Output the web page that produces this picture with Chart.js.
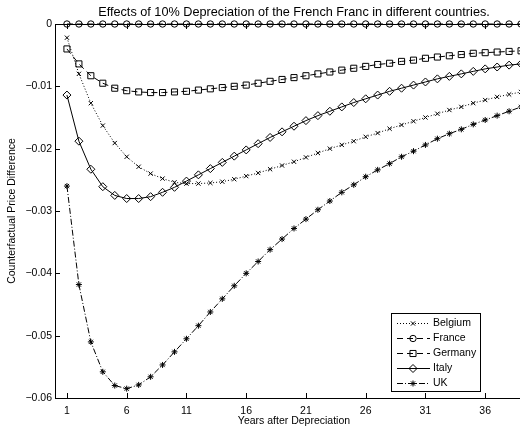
<!DOCTYPE html>
<html>
<head>
<meta charset="utf-8">
<script src="https://cdn.jsdelivr.net/npm/chart.js@4/dist/chart.umd.min.js"></script>
<style>
  html, body { margin: 0; padding: 0; background: #fff; overflow: hidden; }
  #wrap { width: 520px; height: 431px; overflow: hidden; }
  canvas { display: block; }
</style>
</head>
<body>
<div id="wrap"><canvas id="chart" width="588" height="431"></canvas></div>
<script>
const years = [1, 2, 3, 4, 5, 6, 7, 8, 9, 10, 11, 12, 13, 14, 15, 16, 17, 18, 19, 20,
  21, 22, 23, 24, 25, 26, 27, 28, 29, 30, 31, 32, 33, 34, 35, 36, 37, 38, 39];

const belgium = [-0.0022, -0.0080, -0.0127, -0.0163, -0.0191, -0.0213, -0.0229, -0.0240, -0.0248, -0.0254,
  -0.0256, -0.0256, -0.0255, -0.0253, -0.0249, -0.0244, -0.0239, -0.0233, -0.0227, -0.0221,
  -0.0214, -0.0207, -0.0200, -0.0194, -0.0188, -0.0181, -0.0175, -0.0168, -0.0162, -0.0156,
  -0.0150, -0.0144, -0.0138, -0.0133, -0.0127, -0.0122, -0.0117, -0.0113, -0.0109];

const france = [0, 0, 0, 0, 0, 0, 0, 0, 0, 0, 0, 0, 0, 0, 0, 0, 0, 0, 0, 0,
  0, 0, 0, 0, 0, 0, 0, 0, 0, 0, 0, 0, 0, 0, 0, 0, 0, 0, 0];

const germany = [-0.0040, -0.0064, -0.0083, -0.0095, -0.0103, -0.0107, -0.0109, -0.0110, -0.0110, -0.0109,
  -0.0108, -0.0106, -0.0104, -0.0102, -0.0100, -0.0098, -0.0095, -0.0092, -0.0089, -0.0086,
  -0.0083, -0.0080, -0.0077, -0.0074, -0.0071, -0.0068, -0.0065, -0.0063, -0.0060, -0.0058,
  -0.0055, -0.0053, -0.0051, -0.0049, -0.0047, -0.0046, -0.0045, -0.0044, -0.0043];

const italy = [-0.0114, -0.0188, -0.0233, -0.0261, -0.0275, -0.0280, -0.0280, -0.0277, -0.0270, -0.0262,
  -0.0252, -0.0242, -0.0232, -0.0222, -0.0212, -0.0202, -0.0192, -0.0182, -0.0173, -0.0164,
  -0.0155, -0.0147, -0.0140, -0.0133, -0.0126, -0.0120, -0.0114, -0.0108, -0.0103, -0.0098,
  -0.0093, -0.0088, -0.0084, -0.0080, -0.0076, -0.0072, -0.0069, -0.0066, -0.0064];

const uk = [-0.0260, -0.0418, -0.0510, -0.0558, -0.0580, -0.0585, -0.0579, -0.0566, -0.0547, -0.0526,
  -0.0505, -0.0484, -0.0462, -0.0441, -0.0420, -0.0400, -0.0381, -0.0362, -0.0345, -0.0328,
  -0.0313, -0.0298, -0.0284, -0.0270, -0.0258, -0.0245, -0.0234, -0.0224, -0.0213, -0.0204,
  -0.0194, -0.0184, -0.0176, -0.0169, -0.0161, -0.0154, -0.0147, -0.0140, -0.0133];

const xTicks = [1, 6, 11, 16, 21, 26, 31, 36];
const yTicks = [0, -0.01, -0.02, -0.03, -0.04, -0.05, -0.06];

const FONT = "'Liberation Sans', Arial, Helvetica, sans-serif";
Chart.defaults.font.family = FONT;
Chart.defaults.color = "#000";

const series = [
  { label: "Belgium", values: belgium, style: "crossRot", r: 3, dash: [1, 2] },
  { label: "France", values: france, style: "circle", r: 3.2, dash: [6, 4] },
  { label: "Germany", values: germany, style: "rect", r: 4.3, dash: [6, 4] },
  { label: "Italy", values: italy, style: "rectRot", r: 4, dash: [] },
  { label: "UK", values: uk, style: "star", r: 3, dash: [6, 2, 1, 2] },
];

const datasets = series.map((s) => ({
  label: s.label,
  data: years.map((yr, i) => ({ x: yr, y: s.values[i] })),
  borderColor: "#000",
  borderWidth: 1,
  borderDash: s.dash,
  pointStyle: s.style,
  pointRadius: s.r,
  pointBorderWidth: 1,
  pointBorderColor: "#000",
  pointBackgroundColor: "rgba(0,0,0,0)",
  tension: 0,
  clip: false,
}));

// box + inward ticks, matlab style
const frame = {
  id: "frame",
  beforeDatasetsDraw(chart) {
    const { ctx, chartArea: a, scales: { x, y } } = chart;
    ctx.save();
    ctx.strokeStyle = "#000";
    ctx.lineWidth = 1;
    ctx.setLineDash([]);
    ctx.strokeRect(a.left + 0.5, a.top + 0.5, a.right - a.left, a.bottom - a.top);
    ctx.beginPath();
    xTicks.forEach((v) => {
      const px = Math.round(x.getPixelForValue(v)) + 0.5;
      ctx.moveTo(px, a.bottom); ctx.lineTo(px, a.bottom - 5);
      ctx.moveTo(px, a.top); ctx.lineTo(px, a.top + 5);
    });
    yTicks.forEach((v) => {
      const py = Math.round(y.getPixelForValue(v)) + 0.5;
      ctx.moveTo(a.left, py); ctx.lineTo(a.left + 5, py);
    });
    ctx.stroke();
    ctx.restore();
  },
};

const boxLegend = {
  id: "boxLegend",
  afterDraw(chart) {
    const { ctx } = chart;
    const left = 391, top = 313, w = 89, h = 78;
    ctx.save();
    ctx.fillStyle = "#fff";
    ctx.fillRect(left, top, w, h);
    ctx.strokeStyle = "#000";
    ctx.lineWidth = 1;
    ctx.strokeRect(left + 0.5, top + 0.5, w, h);
    ctx.font = "10.5px " + FONT;
    ctx.textBaseline = "middle";
    chart.data.datasets.forEach((ds, i) => {
      const yy = Math.round(top + 9.5 + i * 15) + 0.5;
      ctx.strokeStyle = "#000";
      ctx.lineWidth = 1;
      ctx.setLineDash(ds.borderDash);
      ctx.beginPath();
      ctx.moveTo(left + 6, yy);
      ctx.lineTo(left + 39, yy);
      ctx.stroke();
      ctx.setLineDash([]);
      ctx.fillStyle = "rgba(0,0,0,0)";
      Chart.helpers.drawPoint(ctx, { pointStyle: ds.pointStyle, radius: ds.pointRadius, borderWidth: 1, rotation: 0 }, left + 22, yy);
      ctx.fillStyle = "#000";
      ctx.fillText(ds.label, left + 42, yy);
    });
    ctx.restore();
  },
};

new Chart(document.getElementById("chart"), {
  type: "line",
  data: { datasets },
  options: {
    responsive: false,
    animation: false,
    plugins: {
      legend: { display: false },
      tooltip: { enabled: false },
      title: {
        display: true,
        text: "Effects of 10% Depreciation of the French Franc in different countries.",
        color: "#000",
        font: { size: 12.7, weight: "normal" },
        padding: { top: 4.9, bottom: 3.86 },
      },
    },
    scales: {
      x: {
        type: "linear",
        min: 0,
        max: 40,
        grid: { display: false, drawTicks: false },
        border: { display: false },
        afterBuildTicks: (s) => { s.ticks = xTicks.map((v) => ({ value: v })); },
        afterFit: (s) => { s.height = 33; },
        ticks: {
          color: "#000",
          font: { size: 10.5 },
          padding: 7,
          autoSkip: false,
          maxRotation: 0,
          callback: (v) => String(v),
        },
        title: {
          display: true,
          text: "Years after Depreciation",
          color: "#000",
          font: { size: 10.5 },
          padding: { top: 0, bottom: 3.2 },
        },
      },
      y: {
        type: "linear",
        min: -0.06,
        max: 0,
        grid: { display: false, drawTicks: false },
        border: { display: false },
        afterBuildTicks: (s) => { s.ticks = yTicks.map((v) => ({ value: v })); },
        afterFit: (s) => { s.width = 55; },
        ticks: {
          color: "#000",
          font: { size: 10.5 },
          padding: 3,
          callback: (v) => (v === 0 ? "0" : "\u2212" + Math.abs(v).toFixed(2)),
        },
        title: {
          display: true,
          text: "Counterfactual Price Difference",
          color: "#000",
          font: { size: 10.5 },
          padding: { top: 6, bottom: 0 },
        },
      },
      // empty right-hand strip so the axes run past the cropped edge
      yRight: {
        type: "linear",
        position: "right",
        grid: { display: false, drawTicks: false },
        border: { display: false },
        ticks: { display: false },
        afterFit: (s) => { s.width = 55; },
      },
    },
  },
  plugins: [frame, boxLegend],
});
</script>
</body>
</html>
